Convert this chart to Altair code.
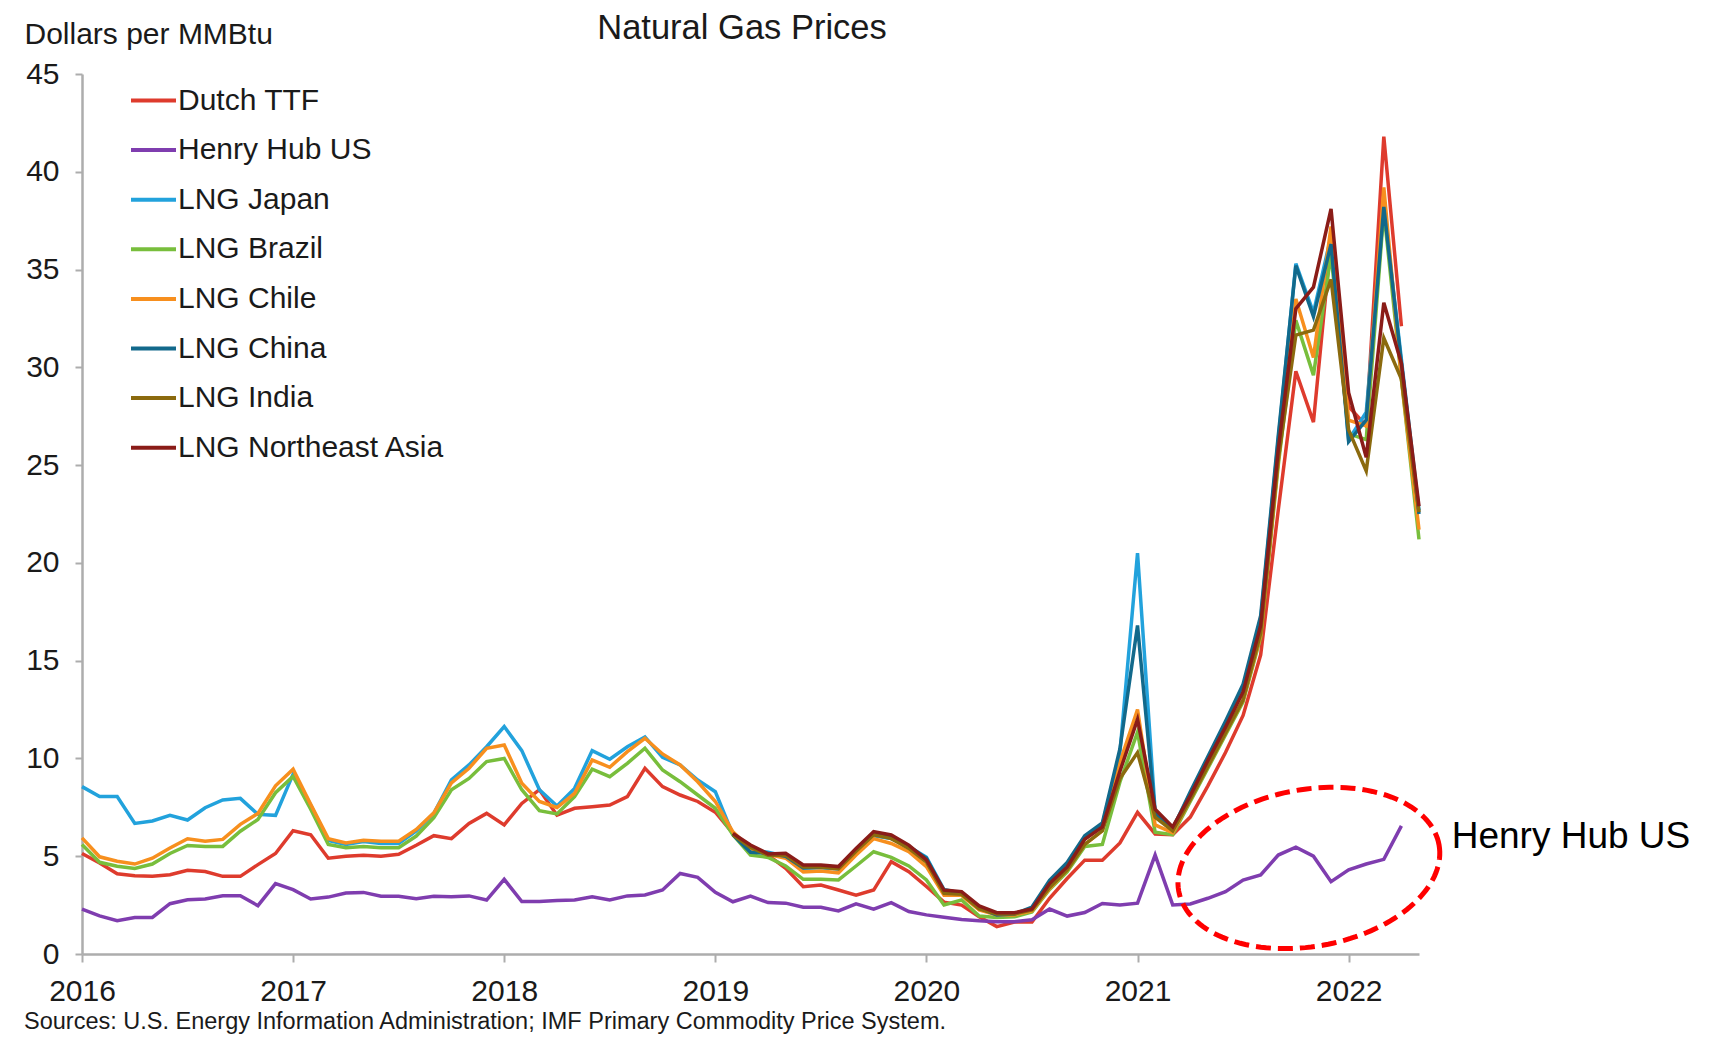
import math
import altair as alt
import pandas as pd

# ---------------- data ----------------
series_names = ["Dutch TTF", "Henry Hub US", "LNG Japan", "LNG Brazil",
                "LNG Chile", "LNG China", "LNG India", "LNG Northeast Asia"]
series_colors = ["#DE3B2D", "#7F3DAF", "#22A2DC", "#78BE3C",
                 "#F78F1E", "#12698B", "#8B6A0E", "#8A1C18"]

# month index 0 = Jan 2016 ... 76 = May 2022
month_index = list(range(77))
year_ticks = [0, 12, 24, 36, 48, 60, 72]
y_ticks = [0, 5, 10, 15, 20, 25, 30, 35, 40, 45]

dutch_ttf = [5.14, 4.65, 4.1, 4.0, 3.97, 4.05, 4.28, 4.22, 3.97, 3.97, 4.57, 5.14,
             6.3, 6.1, 4.9, 5.0, 5.05, 5.0, 5.1, 5.56, 6.05, 5.9, 6.68, 7.19,
             6.6, 7.7, 8.4, 7.1, 7.45, 7.53, 7.62, 8.05, 9.5, 8.56, 8.13, 7.8,
             7.25, 6.17, 5.4, 5.06, 4.38, 3.44, 3.53, 3.27, 3.01, 3.27, 4.72, 4.21,
             3.45, 2.65, 2.5, 1.9, 1.4, 1.63, 1.63, 2.85, 3.86, 4.8, 4.8, 5.68,
             7.24, 6.14, 6.1, 7.0, 8.6, 10.3, 12.2, 15.3, 22.7, 29.8, 27.2, 36.5,
             28.0, 27.0, 41.8, 32.1, None]
henry_hub = [2.29, 1.95, 1.7, 1.87, 1.87, 2.57, 2.77, 2.81, 2.98, 2.98, 2.47, 3.6,
             3.29, 2.81, 2.91, 3.12, 3.15, 2.95, 2.95, 2.83, 2.95, 2.93, 2.97, 2.76,
             3.82, 2.68, 2.68, 2.73, 2.76, 2.93, 2.76, 2.97, 3.02, 3.27, 4.12, 3.92,
             3.15, 2.67, 2.96, 2.63, 2.6, 2.39, 2.39, 2.2, 2.56, 2.29, 2.63, 2.17,
             2.0, 1.88, 1.77, 1.7, 1.65, 1.65, 1.75, 2.3, 1.94, 2.12, 2.58, 2.5,
             2.6, 5.06, 2.51, 2.56, 2.85, 3.19, 3.78, 4.04, 5.06, 5.46, 5.0, 3.7,
             4.3, 4.6, 4.84, 6.55, None]
lng_japan = [8.56, 8.05, 8.05, 6.68, 6.8, 7.09, 6.85, 7.48, 7.88, 7.96, 7.14, 7.09,
             9.2, 7.6, 5.8, 5.6, 5.75, 5.65, 5.65, 6.3, 7.2, 8.9, 9.67, 10.6,
             11.63, 10.4, 8.4, 7.57, 8.47, 10.4, 9.96, 10.6, 11.1, 10.06, 9.67, 8.9,
             8.3, 6.1, 5.3, 5.2, 5.0, 4.4, 4.4, 4.35, 5.2, 6.05, 5.9, 5.5,
             4.95, 3.3, 3.1, 2.35, 2.0, 2.05, 2.3, 3.6, 4.5, 5.9, 6.6, 10.3,
             20.5, 7.3, 6.4, 8.2, 10.0, 11.8, 13.6, 17.1, 26.3, 35.3, 32.8, 36.7,
             26.3, 27.7, 38.2, 30.4, 22.7]
lng_brazil = [5.6, 4.69, 4.49, 4.37, 4.6, 5.14, 5.55, 5.5, 5.5, 6.28, 6.88, 8.25,
              9.08, 7.4, 5.6, 5.43, 5.5, 5.43, 5.43, 6.03, 6.97, 8.4, 8.98, 9.84,
              10.0, 8.4, 7.33, 7.16, 8.05, 9.45, 9.07, 9.75, 10.52, 9.41, 8.81, 8.13,
              7.45, 6.1, 5.06, 4.94, 4.5, 3.82, 3.82, 3.79, 4.5, 5.23, 4.94, 4.5,
              3.79, 2.51, 2.76, 1.94, 1.87, 1.9, 2.15, 3.3, 4.2, 5.5, 5.6, 8.8,
              11.35, 6.23, 6.1, 7.8, 9.5, 11.2, 12.9, 16.2, 25.0, 32.4, 29.6, 35.8,
              26.6, 26.3, 38.0, 29.4, 21.2]
lng_chile = [5.94, 4.97, 4.74, 4.6, 4.9, 5.42, 5.89, 5.77, 5.86, 6.63, 7.19, 8.6,
             9.45, 7.65, 5.9, 5.68, 5.82, 5.77, 5.77, 6.37, 7.22, 8.75, 9.5, 10.52,
             10.69, 8.73, 7.8, 7.49, 8.22, 9.92, 9.55, 10.35, 11.03, 10.23, 9.67, 8.81,
             7.8, 6.25, 5.4, 5.1, 4.9, 4.2, 4.25, 4.15, 5.06, 5.9, 5.65, 5.23,
             4.47, 3.0, 3.0, 2.25, 2.0, 2.0, 2.2, 3.35, 4.3, 5.6, 6.3, 9.8,
             12.5, 6.6, 6.2, 7.9, 9.6, 11.3, 13.0, 16.3, 25.2, 33.5, 30.5, 37.2,
             27.3, 27.0, 39.2, 29.4, 21.7]
lng_china = [None] * 37 + [
             6.1, 5.2, 5.15, 5.0, 4.4, 4.45, 4.4, 5.3, 6.15, 5.95, 5.5,
             4.9, 3.2, 3.1, 2.35, 2.0, 2.05, 2.4, 3.77, 4.68, 6.05, 6.7, 10.5,
             16.8, 7.2, 6.4, 8.3, 10.1, 11.9, 13.8, 17.3, 26.5, 35.2, 32.6, 36.3,
             26.2, 27.3, 38.2, 30.2, 22.5]
lng_india = [None] * 37 + [
             6.1, 5.45, 5.05, 5.05, 4.45, 4.45, 4.35, 5.25, 6.1, 5.9, 5.4,
             4.7, 3.1, 3.05, 2.3, 2.05, 2.05, 2.25, 3.4, 4.3, 5.6, 6.3, 8.97,
             10.3, 7.0, 6.3, 7.9, 9.6, 11.3, 13.0, 16.4, 25.3, 31.65, 31.9, 34.5,
             26.8, 24.7, 31.5, 29.4, 22.6]
lng_ne_asia = [None] * 37 + [
             6.17, 5.57, 5.12, 5.15, 4.55, 4.55, 4.47, 5.4, 6.26, 6.09, 5.57,
             4.81, 3.27, 3.19, 2.46, 2.11, 2.11, 2.3, 3.6, 4.45, 5.87, 6.5, 9.35,
             12.0, 7.4, 6.5, 8.1, 9.9, 11.6, 13.4, 16.8, 25.8, 33.0, 34.1, 38.1,
             28.7, 25.4, 33.3, 30.2, 22.9]

all_series = [dutch_ttf, henry_hub, lng_japan, lng_brazil,
              lng_chile, lng_china, lng_india, lng_ne_asia]

rows = []
for name, vals in zip(series_names, all_series):
    for m, v in zip(month_index, vals):
        if v is not None:
            rows.append({"m": m, "series": name, "value": v})
df = pd.DataFrame(rows)

# annotation (data coordinates)
ellipse_center_m = [69.74]
ellipse_center_v = [4.4]
label_m = [77.86]
label_v = [5.4]

FONT = "Liberation Sans"
TXT = "#1a1a1a"
AXIS_GRAY = "#ADADAD"

x_scale = alt.Scale(domain=[0, 76], nice=False, zero=False)
y_scale = alt.Scale(domain=[0, 45], nice=False)

lines = alt.Chart(df).mark_line(strokeWidth=3.5).encode(
    x=alt.X("m:Q", scale=x_scale,
            axis=alt.Axis(values=year_ticks, labelExpr="2016 + datum.value / 12",
                          title=None, grid=False, domainColor=AXIS_GRAY,
                          domainWidth=2.5, tickColor=AXIS_GRAY, tickWidth=2,
                          tickSize=8, labelFontSize=30, labelColor=TXT,
                          labelPadding=14, labelFont=FONT, labelFlush=False)),
    y=alt.Y("value:Q", scale=y_scale,
            axis=alt.Axis(values=y_ticks, title="Dollars per MMBtu", titleAngle=0,
                          titleX=-58, titleY=-31, titleAlign="left",
                          titleBaseline="alphabetic", titleFontSize=30,
                          titleFontWeight="normal", titleColor=TXT, titleFont=FONT,
                          grid=False, domainColor=AXIS_GRAY, domainWidth=2.5,
                          tickColor=AXIS_GRAY, tickWidth=2, tickSize=7,
                          labelFontSize=30, labelColor=TXT, labelPadding=16,
                          labelFont=FONT)),
    color=alt.Color("series:N",
                    scale=alt.Scale(domain=series_names, range=series_colors),
                    legend=alt.Legend(title=None, orient="none", legendX=47, legendY=2,
                                      direction="vertical", symbolType="stroke",
                                      symbolSize=2025, symbolStrokeWidth=4,
                                      labelFontSize=30, labelColor=TXT, labelFont=FONT,
                                      labelLimit=500, labelOffset=0, rowPadding=9.6)),
)

# dashed ellipse (shape geometry only)
a_ax, b_ax, tilt = 1.0, 0.594, math.radians(10)
pts = []
for k in range(144):
    t = 2 * math.pi * k / 144
    ex, ey = a_ax * math.cos(t), b_ax * math.sin(t)
    xr = ex * math.cos(tilt) + ey * math.sin(tilt)
    yr = -ex * math.sin(tilt) + ey * math.cos(tilt)
    pts.append(f"{xr:.4f} {yr:.4f}")
ellipse_path = "M " + " L ".join(pts) + " Z"

ell_df = pd.DataFrame({"m": ellipse_center_m, "value": ellipse_center_v})
ellipse = alt.Chart(ell_df).mark_point(
    shape=ellipse_path, size=264.4 ** 2, filled=False, stroke="#FF0000",
    strokeWidth=5, strokeDash=[15, 7], opacity=1
).encode(x=alt.X("m:Q", scale=x_scale), y=alt.Y("value:Q", scale=y_scale))

lab_df = pd.DataFrame({"m": label_m, "value": label_v, "t": ["Henry Hub US"]})
hh_label = alt.Chart(lab_df).mark_text(
    align="left", baseline="alphabetic", fontSize=37, font=FONT, color="#000000"
).encode(x=alt.X("m:Q", scale=x_scale), y=alt.Y("value:Q", scale=y_scale), text="t:N")

title_df = pd.DataFrame({"t": ["Natural Gas Prices"]})
title_txt = alt.Chart(title_df).mark_text(
    align="center", baseline="alphabetic", fontSize=34.5, font=FONT, color=TXT
).encode(x=alt.value(660), y=alt.value(-35), text="t:N")

src_df = pd.DataFrame({"t": ["Sources: U.S. Energy Information Administration; IMF Primary Commodity Price System."]})
source_txt = alt.Chart(src_df).mark_text(
    align="left", baseline="alphabetic", fontSize=23.5, font=FONT, color=TXT
).encode(x=alt.value(-58), y=alt.value(955), text="t:N")

chart = alt.layer(lines, ellipse, hh_label, title_txt, source_txt).properties(
    width=1337, height=880,
    autosize=alt.AutoSizeParams(type="none"),
    padding={"left": 74, "top": 66, "right": 283, "bottom": 80},
).configure(font=FONT).configure_view(stroke=None)

chart.save("out.html", embed_options={"renderer": "svg", "actions": False})
